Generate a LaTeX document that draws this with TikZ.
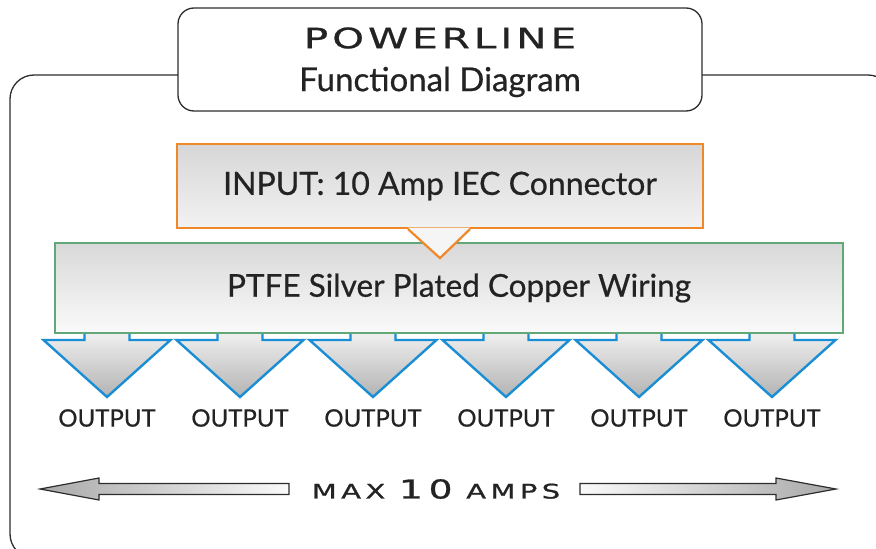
\documentclass[tikz,border=0pt]{standalone}
\usepackage{fontspec}
\setmainfont{Lato}[FakeBold=0.6]
\newfontfamily\widefont[FakeStretch=1.45,LetterSpace=14,FakeBold=0.8]{DejaVu Sans}
\newfontfamily\ampfont[FakeStretch=1.45,LetterSpace=22,FakeBold=1]{DejaVu Sans}
\usetikzlibrary{calc,positioning}
\definecolor{frameline}{RGB}{45,45,45}
\definecolor{textgray}{RGB}{35,35,35}
\definecolor{inorange}{RGB}{240,136,42}
\definecolor{wiregreen}{RGB}{96,168,120}
\definecolor{outblue}{RGB}{26,142,212}
\tikzset{
  frame/.style={draw=frameline, line width=1.3pt, rounded corners=24pt},
  titlebox/.style={draw=frameline, line width=1.3pt, fill=white, rounded corners=16pt,
    minimum width=524pt, minimum height=103pt},
  titlename/.style={text=textgray, font=\widefont\fontsize{28}{29}\selectfont},
  titlesub/.style={text=textgray, font=\fontsize{33}{34}\selectfont},
  inbox/.style={draw=inorange, line width=2.2pt, top color=black!16, bottom color=black!5,
    minimum width=526pt, minimum height=84pt, text=textgray, font=\fontsize{32}{34}\selectfont},
  notch/.style={fill=black!4},
  wirebox/.style={draw=wiregreen, line width=2pt, top color=black!15, bottom color=black!2,
    minimum width=788pt, minimum height=90pt, text=textgray, font=\fontsize{31.5}{33}\selectfont},
  outarrow/.style={draw=outblue, line width=2.4pt, top color=black!5, bottom color=black!30},
  outlabel/.style={text=textgray, font=\fontsize{24}{25}\selectfont},
  amparrow/.style={draw=frameline, line width=1.2pt},
  ampnote/.style={text=textgray, font=\ampfont\fontsize{20}{21}\selectfont}
}
\begin{document}
\begin{tikzpicture}[x=1pt,y=-1pt]
  \useasboundingbox (0,0) rectangle (876,549);
  \clip (0,0) rectangle (876,549);
  \draw[frame] (10,75) rectangle (892,558);
  \node[titlebox] (title) at (440,59.5) {};
  \node[titlename] (name) at (440,38) {POWERLINE};
  \node[titlesub] (sub) at (440,82) {Functional Diagram};
  % output arrows, drawn first so the wiring box hides the stems
  \foreach \i in {0,...,5}{
    \pgfmathsetmacro\cx{107+133*\i}
    \coordinate (tip\i) at (\cx,397);
    \draw[outarrow] ($(tip\i)+(-22.5,-67)$) -- ($(tip\i)+(-22.5,-57)$) -- ($(tip\i)+(-63.5,-57)$)
      -- (tip\i) -- ($(tip\i)+(63.5,-57)$) -- ($(tip\i)+(22.5,-57)$) -- ($(tip\i)+(22.5,-67)$);
    \node[outlabel] (out\i) at (\cx,418) {OUTPUT};
  }
  \node[wirebox] (wiring) at (449,288) {\hspace*{20pt}PTFE Silver Plated Copper Wiring};
  \node[inbox] (input) at (440,186) {INPUT: 10 Amp IEC Connector};
  \fill[notch] ($(input.south)+(-32,-1.5)$) -- ($(input.south)+(0,29)$) -- ($(input.south)+(30,-1.5)$) -- cycle;
  \draw[inorange, line width=2.2pt] ($(input.south)+(-32,0)$) -- ($(input.south)+(0,29)$) -- ($(input.south)+(30,0)$);
  % max current
  \node[ampnote] (amps) at (436,489) {MAX {\fontsize{26}{26}\selectfont 10} AMPS};
  \draw[amparrow, left color=black!34, right color=black!2]
    (289,483.5) -- (99,483.5) -- (99,478) -- (40,489) -- (99,500) -- (99,494.5) -- (289,494.5) -- cycle;
  \draw[amparrow, left color=black!2, right color=black!34]
    (580,483.5) -- (776,483.5) -- (776,478) -- (836,489) -- (776,500) -- (776,494.5) -- (580,494.5) -- cycle;
\end{tikzpicture}
\end{document}
